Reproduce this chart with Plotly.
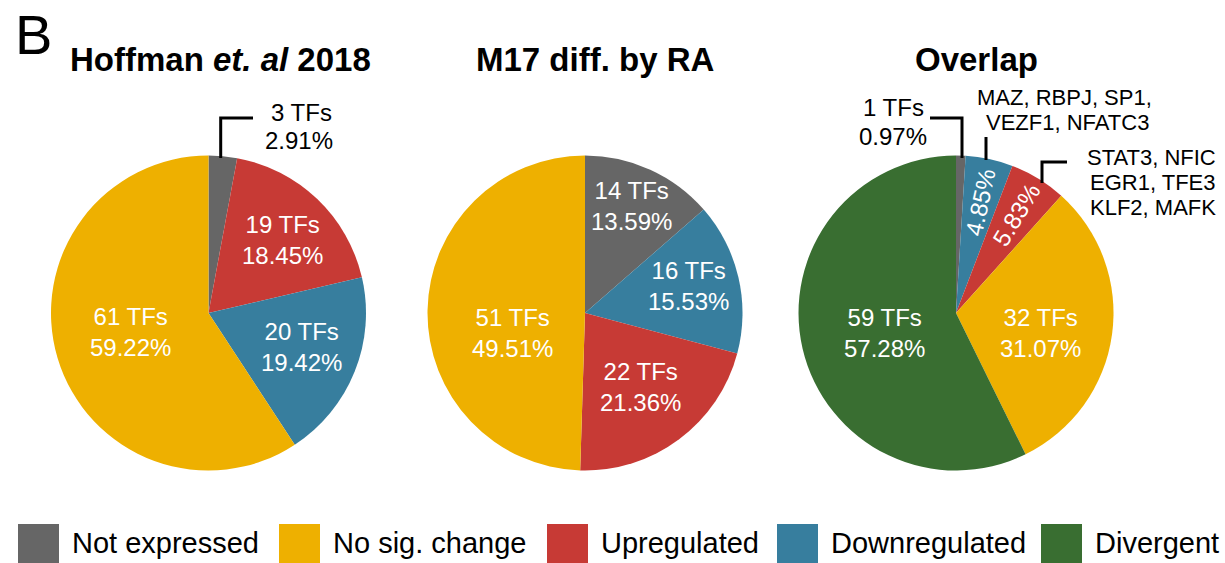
import math
import plotly.graph_objects as go

# ---------------- data ----------------
legend_categories = ["Not expressed", "No sig. change", "Upregulated", "Downregulated", "Divergent"]

hoffman_labels = ["Not expressed", "Upregulated", "Downregulated", "No sig. change"]
hoffman_counts = [3, 19, 20, 61]

m17_labels = ["Not expressed", "Downregulated", "Upregulated", "No sig. change"]
m17_counts = [14, 16, 22, 51]

overlap_labels = ["Not expressed", "Downregulated", "Upregulated", "No sig. change", "Divergent"]
overlap_counts = [1, 5, 6, 32, 59]

titles = ["Hoffman <i>et. al</i> 2018", "M17 diff. by RA", "Overlap"]
downreg_genes = ["MAZ, RBPJ, SP1,", "VEZF1, NFATC3"]
upreg_genes = ["STAT3, NFIC", "EGR1, TFE3", "KLF2, MAFK"]

# ---------------- style ----------------
COLORS = {
    "Not expressed": "#666666",
    "No sig. change": "#EEB000",
    "Upregulated": "#C73A35",
    "Downregulated": "#377E9E",
    "Divergent": "#396E31",
}
FONT = "Liberation Sans, Arial, sans-serif"
W, H = 1225, 563
CX = [208.5, 585, 956]
CY = 313
R = 157.5


def px(x):
    return x / W


def py(y):
    return 1 - y / H


pies = [(hoffman_labels, hoffman_counts), (m17_labels, m17_counts), (overlap_labels, overlap_counts)]

fig = go.Figure()
for i, (labs, cnts) in enumerate(pies):
    fig.add_trace(go.Pie(
        labels=labs, values=cnts, sort=False, direction="clockwise", rotation=0,
        marker=dict(colors=[COLORS[l] for l in labs], line=dict(width=0)),
        textinfo="none", hoverinfo="label+value+percent", showlegend=False,
        domain=dict(x=[px(CX[i] - R), px(CX[i] + R)], y=[py(CY + R), py(CY - R)]),
    ))

annotations = []
shapes = []

# inside labels: (pie, slice index, radius fraction, angle offset, rotated)
label_style = [
    (0, 1, 0.66, 2, False), (0, 2, 0.63, -2, False), (0, 3, 0.51, 3, False),
    (1, 0, 0.74, -1, False), (1, 1, 0.68, -1.5, False), (1, 2, 0.585, 0, False), (1, 3, 0.48, -16, False),
    (2, 1, 0.72, 0, True), (2, 2, 0.735, 0, True), (2, 3, 0.55, 5.5, False), (2, 4, 0.47, -2.6, False),
]


def slice_info(pie, idx):
    labs, cnts = pies[pie]
    tot = sum(cnts)
    start = sum(cnts[:idx]) / tot
    mid = (start + cnts[idx] / tot / 2) * 360
    return cnts[idx], cnts[idx] / tot * 100, mid


for pie, idx, f, dth, rot in label_style:
    n, pct, mid = slice_info(pie, idx)
    th = math.radians(mid + dth)
    x = CX[pie] + f * R * math.sin(th)
    y = CY - f * R * math.cos(th)
    if rot:
        text = f"{pct:.2f}%"
        angle = mid - 90
    else:
        text = f"{n} TFs<br>{pct:.2f}%"
        angle = 0
    annotations.append(dict(x=px(x), y=py(y), xref="paper", yref="paper", text=text,
                            showarrow=False, textangle=angle, xanchor="center", yanchor="middle",
                            font=dict(family=FONT, size=24, color="white")))

# callout labels (outside)
n, pct, _ = slice_info(0, 0)
for t, yy, xx in [(f"{n} TFs", 113, 301), (f"{pct:.2f}%", 140, 299)]:
    annotations.append(dict(x=px(xx), y=py(yy), xref="paper", yref="paper", text=t, showarrow=False,
                            xanchor="center", yanchor="middle", font=dict(family=FONT, size=24, color="black")))
n, pct, _ = slice_info(2, 0)
for t, yy, xx in [(f"{n} TFs", 108, 893), (f"{pct:.2f}%", 136, 893)]:
    annotations.append(dict(x=px(xx), y=py(yy), xref="paper", yref="paper", text=t, showarrow=False,
                            xanchor="center", yanchor="middle", font=dict(family=FONT, size=24, color="black")))
for t, yy, xx in zip(downreg_genes, [97.5, 123], [1064, 1067]):
    annotations.append(dict(x=px(xx), y=py(yy), xref="paper", yref="paper", text=t, showarrow=False,
                            xanchor="center", yanchor="middle", font=dict(family=FONT, size=22, color="black")))
for t, yy in zip(upreg_genes, [157, 182.5, 208]):
    annotations.append(dict(x=px(1218), y=py(yy), xref="paper", yref="paper", text=t, showarrow=False,
                            xanchor="right", yanchor="middle", font=dict(family=FONT, size=22, color="black")))

# leader lines (pixel paths)
leaders = [
    [(220.7, 158), (220.7, 118), (253, 118)],
    [(962, 158), (962, 118), (930, 118)],
    [(986, 160), (986, 137)],
    [(1042, 183), (1042, 162), (1067, 162)],
]
for pts in leaders:
    path = "M " + " L ".join(f"{px(a)},{py(b)}" for a, b in pts)
    shapes.append(dict(type="path", path=path, xref="paper", yref="paper",
                       line=dict(color="black", width=3)))

# titles
for t, xx in zip(titles, [220, 595, 976]):
    annotations.append(dict(x=px(xx), y=py(59), xref="paper", yref="paper", text=f"<b>{t}</b>",
                            showarrow=False, xanchor="center", yanchor="middle",
                            font=dict(family=FONT, size=33, color="black")))

# panel letter
annotations.append(dict(x=px(13), y=py(35), xref="paper", yref="paper", text="B", showarrow=False,
                        xanchor="left", yanchor="middle", font=dict(family=FONT, size=56, color="black")))

# legend
sq_left = [18, 279, 547, 777, 1041]
for cat, x0 in zip(legend_categories, sq_left):
    shapes.append(dict(type="rect", xref="paper", yref="paper", x0=px(x0), x1=px(x0 + 41),
                       y0=py(575), y1=py(524), fillcolor=COLORS[cat], line=dict(width=0)))
    annotations.append(dict(x=px(x0 + 52), y=py(542.5), xref="paper", yref="paper", text=cat,
                            showarrow=False, xanchor="left", yanchor="middle",
                            font=dict(family=FONT, size=29, color="black")))

fig.update_layout(
    width=W, height=H, margin=dict(l=0, r=0, t=0, b=0),
    paper_bgcolor="white", plot_bgcolor="white",
    annotations=annotations, shapes=shapes, showlegend=False,
    font=dict(family=FONT),
)

fig.write_html("out.html", config={"displayModeBar": False},
               post_script="document.body.style.margin='0';")
